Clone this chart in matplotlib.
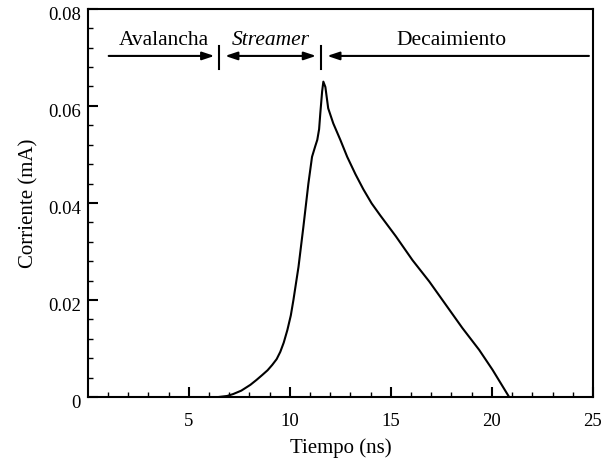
import numpy as np
import matplotlib
matplotlib.use('Agg')
import matplotlib.pyplot as plt
from matplotlib.transforms import ScaledTranslation

plt.rcParams['font.family'] = ['Liberation Serif', 'DejaVu Serif']

# corriente del pulso (tiempo en ns, corriente en mA)
tiempo = [6.5, 6.9, 7.2, 7.6, 8.05, 8.35, 8.63, 8.9, 9.13, 9.35, 9.53, 9.7, 9.88,
          10.05, 10.18, 10.43, 10.67, 10.92, 11.1, 11.26, 11.36, 11.45, 11.51,
          11.6, 11.66, 11.76, 11.9, 12.15, 12.5, 12.84, 13.25, 13.64, 14.05,
          14.48, 15.25, 16.07, 16.9, 17.72, 18.54, 19.37, 20.03, 20.44, 20.85]
corriente = [0.0, 0.0002, 0.0006, 0.0013, 0.0025, 0.0035, 0.0045, 0.0055, 0.0066,
             0.0078, 0.0093, 0.0112, 0.0138, 0.0168, 0.0200, 0.0268, 0.0350,
             0.0440, 0.0495, 0.0517, 0.0530, 0.0552, 0.0585, 0.0630, 0.0650,
             0.0639, 0.0595, 0.0564, 0.0530, 0.0495, 0.0459, 0.0428, 0.0399,
             0.0374, 0.0331, 0.0282, 0.0238, 0.0190, 0.0142, 0.0097, 0.0056,
             0.0028, 0.0]

# limites de las etapas del pulso
fases = ['Avalancha', 'Streamer', 'Decaimiento']
t_fases = [1.0, 6.5, 11.55, 24.8]

fig = plt.figure(figsize=(6.11, 4.67), dpi=100)
ax = fig.add_axes([0.1435, 0.150, 0.827, 0.831])

ax.plot(tiempo, corriente, 'k-', lw=1.5)

ax.set_xlim(0, 25)
ax.set_ylim(0, 0.08)
ax.set_xticks([5, 10, 15, 20, 25])
ax.set_xticks(np.arange(1, 25, 1), minor=True)
ax.set_yticks([0, 0.02, 0.04, 0.06, 0.08])
ax.set_yticklabels(['0', '0.02', '0.04', '0.06', '0.08'])
ax.set_yticks(np.arange(0.004, 0.08, 0.004), minor=True)
ax.tick_params(which='both', direction='in', top=False, right=False, labelsize=13.5)
ax.tick_params(which='major', length=7, width=1.5)
ax.tick_params(which='minor', length=3.5, width=1.0)
ax.tick_params(axis='x', pad=11.5)
ax.tick_params(axis='y', pad=5)
for s in ax.spines.values():
    s.set_linewidth(1.5)

# etiquetas del eje y un poco mas abajo
desp = ScaledTranslation(0, -5 / 100, fig.dpi_scale_trans)
for lbl in ax.get_yticklabels():
    lbl.set_transform(lbl.get_transform() + desp)

ax.set_xlabel('Tiempo (ns)', fontsize=15, labelpad=6)
ax.set_ylabel('Corriente (mA)', fontsize=15, labelpad=7)

# flechas de las etapas
y_fl = 0.0703
estilo = dict(color='k', lw=1.5, shrinkA=0, shrinkB=0, mutation_scale=12)
ax.annotate('', xy=(6.27, y_fl), xytext=(t_fases[0] + 0.04, y_fl),
            arrowprops=dict(arrowstyle='-|>,head_length=0.6,head_width=0.2', **estilo))
ax.annotate('', xy=(11.3, y_fl), xytext=(6.8, y_fl),
            arrowprops=dict(arrowstyle='<|-|>,head_length=0.6,head_width=0.2', **estilo))
ax.annotate('', xy=(t_fases[3], y_fl), xytext=(11.85, y_fl),
            arrowprops=dict(arrowstyle='<|-,head_length=0.6,head_width=0.2', **estilo))
for t in t_fases[1:3]:
    ax.plot([t, t], [0.0676, 0.0724], 'k-', lw=1.5)

ax.text(3.76, 0.0726, fases[0], fontsize=15.5, ha='center', va='baseline')
ax.text(9.05, 0.0726, fases[1], fontsize=15.5, ha='center', va='baseline', style='italic')
ax.text(18.0, 0.0726, fases[2], fontsize=15.5, ha='center', va='baseline')

fig.savefig('out.png', dpi=100)
